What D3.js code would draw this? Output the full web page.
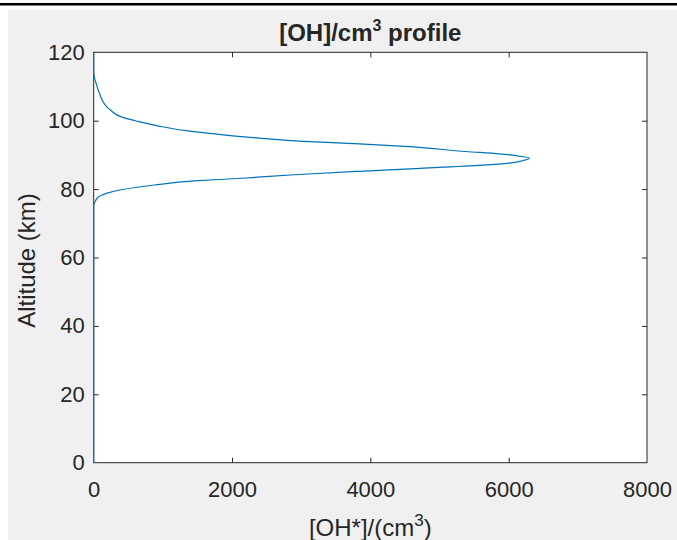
<!DOCTYPE html>
<html>
<head>
<meta charset="utf-8">
<script src="https://cdn.jsdelivr.net/npm/d3@7"></script>
<style>
  html, body { margin: 0; padding: 0; background: #ffffff; }
  svg { display: block; }
  text { font-family: "Liberation Sans", Arial, Helvetica, sans-serif; fill: #262626; }
</style>
</head>
<body>
<svg id="chart" width="677" height="540"></svg>
<script>
// ---- data ----
const altitudes = [0, 75, 75.7, 76.5, 77.6, 78.9, 79.8, 81.2, 82.4, 83.1, 84.2, 85.2, 86.0, 87.0, 87.6, 88.3, 89.0, 89.8, 90.3, 91.0, 92.4, 93.2, 93.9, 94.9, 96.3, 97.0, 98.5, 99.8, 101.1, 102.9, 104.8, 107.8, 110.7, 114.0, 120];
const ohDensity = [0, 0, 5, 25, 62, 206, 398, 880, 1457, 2082, 2900, 3843, 4661, 5622, 6007, 6200, 6300, 6104, 5863, 5382, 4564, 3843, 3121, 2400, 1678, 1361, 928, 639, 398, 254, 159, 87, 38, 0, 0];
const xTicks = [0, 2000, 4000, 6000, 8000];
const yTicks = [0, 20, 40, 60, 80, 100, 120];
const xDomain = [0, 8000];
const yDomain = [0, 120];

const svg = d3.select("#chart");
const W = 677, H = 540;

// figure background
svg.append("rect").attr("x", 0).attr("y", 0).attr("width", W).attr("height", H).attr("fill", "#ffffff");
svg.append("rect").attr("x", 0).attr("y", 3).attr("width", W).attr("height", 2.5).attr("fill", "#000000");
svg.append("rect").attr("x", 8).attr("y", 10).attr("width", W - 8).attr("height", H - 10).attr("fill", "#f0f0f0");

const L = 93.7, R = 647, T = 52.3, B = 462.7;
const x = d3.scaleLinear().domain(xDomain).range([L, R]);
const y = d3.scaleLinear().domain(yDomain).range([B, T]);

// axes area
svg.append("rect").attr("x", L).attr("y", T).attr("width", R - L).attr("height", B - T).attr("fill", "#ffffff");

const axisColor = "#262626";
function styleAxis(g) {
  g.select(".domain").remove();
  g.selectAll(".tick line").attr("stroke", axisColor).attr("stroke-width", 1);
  g.selectAll(".tick text").attr("fill", axisColor).style("font-size", "22px")
    .style("font-family", '"Liberation Sans", Arial, Helvetica, sans-serif');
}

svg.append("g").attr("transform", `translate(0,${B})`)
  .call(d3.axisBottom(x).tickValues(xTicks.slice(1, -1)).tickFormat("").tickSizeInner(-5).tickSizeOuter(0))
  .call(styleAxis);
svg.append("g").attr("transform", `translate(0,${T})`)
  .call(d3.axisTop(x).tickValues(xTicks.slice(1, -1)).tickFormat("").tickSizeInner(-5).tickSizeOuter(0))
  .call(styleAxis);
svg.append("g").attr("transform", `translate(${L},0)`)
  .call(d3.axisLeft(y).tickValues(yTicks.slice(1, -1)).tickFormat("").tickSizeInner(-5).tickSizeOuter(0))
  .call(styleAxis);
svg.append("g").attr("transform", `translate(${R},0)`)
  .call(d3.axisRight(y).tickValues(yTicks.slice(1, -1)).tickFormat("").tickSizeInner(-5).tickSizeOuter(0))
  .call(styleAxis);

// tick labels
svg.append("g").attr("transform", `translate(0,${B})`)
  .call(d3.axisBottom(x).tickValues(xTicks).tickFormat(d3.format("d")).tickSize(0).tickPadding(19))
  .call(styleAxis);
svg.append("g").attr("transform", `translate(${L},0)`)
  .call(d3.axisLeft(y).tickValues(yTicks).tickFormat(d3.format("d")).tickSize(0).tickPadding(9))
  .call(styleAxis);

// box
svg.append("rect").attr("x", L).attr("y", T).attr("width", R - L).attr("height", B - T)
  .attr("fill", "none").attr("stroke", axisColor).attr("stroke-width", 1);

// data line (altitude is monotone, so x is a function of y)
const line = d3.line().x((d, i) => x(ohDensity[i])).y(d => y(d)).curve(d3.curveMonotoneY);
svg.append("path").datum(altitudes)
  .attr("d", line)
  .attr("fill", "none")
  .attr("stroke", "#0072BD")
  .attr("stroke-width", 1.2)
  .attr("stroke-linejoin", "round");

// title
const title = svg.append("text")
  .attr("x", (L + R) / 2).attr("y", 41)
  .attr("text-anchor", "middle")
  .style("font-size", "24px").style("font-weight", "bold").attr("fill", "#000000");
title.append("tspan").text("[OH]/cm");
title.append("tspan").attr("dy", -10).style("font-size", "16px").text("3");
title.append("tspan").attr("dy", 10).text(" profile");

// x label
const xl = svg.append("text")
  .attr("x", (L + R) / 2).attr("y", 536)
  .attr("text-anchor", "middle")
  .style("font-size", "24px").attr("fill", axisColor);
xl.append("tspan").text("[OH*]/(cm");
xl.append("tspan").attr("dy", -10).style("font-size", "17px").text("3");
xl.append("tspan").attr("dy", 10).text(")");

// y label
svg.append("text")
  .attr("transform", `translate(35,${(T + B) / 2 + 3}) rotate(-90)`)
  .attr("text-anchor", "middle")
  .style("font-size", "24px").attr("fill", axisColor)
  .text("Altitude (km)");
</script>
</body>
</html>
